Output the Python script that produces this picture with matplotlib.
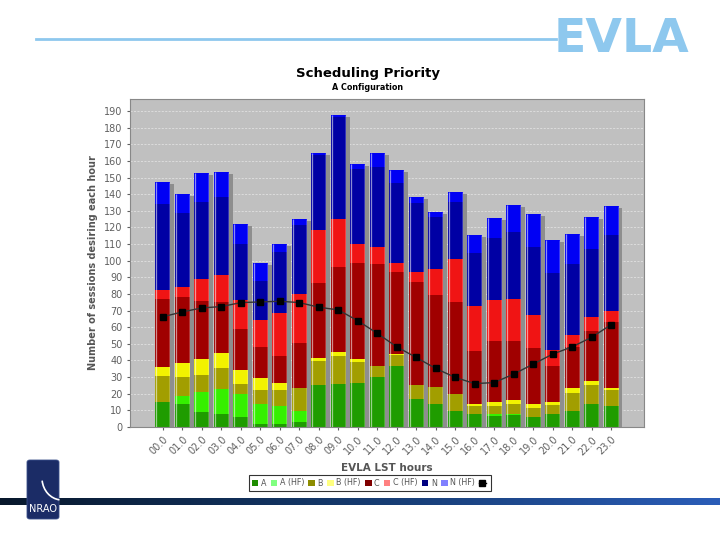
import matplotlib
matplotlib.use("Agg")
import matplotlib.pyplot as plt
import numpy as np
from matplotlib.patches import Patch, FancyBboxPatch, Arc
from matplotlib.lines import Line2D
from matplotlib.colors import LinearSegmentedColormap

# Dados (sessões por hora LST)
horas = ["00.0", "01.0", "02.0", "03.0", "04.0", "05.0", "06.0", "07.0", "08.0", "09.0", "10.0", "11.0",
         "12.0", "13.0", "14.0", "15.0", "16.0", "17.0", "18.0", "19.0", "20.0", "21.0", "22.0", "23.0"]

a_std = [15.1, 14.1, 8.8, 8.0, 6.2, 2.0, 2.0, 3.2, 25.3, 26.1, 26.7, 30.2,
         36.6, 16.7, 14.1, 9.7, 7.6, 6.6, 7.2, 6.0, 7.6, 9.7, 14.1, 12.7]
a_hf = [0, 4.8, 12.5, 14.9, 13.9, 12.1, 10.7, 6.5, 0, 0, 0, 0,
        0, 0, 0, 0, 0, 1.0, 0.8, 0, 0, 0, 0, 0]
b_std = [15.7, 11.3, 10.1, 12.3, 5.6, 8.0, 9.8, 13.6, 14.5, 16.7, 12.5, 6.3,
         6.8, 8.6, 9.8, 10.2, 5.1, 5.1, 6.1, 5.7, 5.5, 11.0, 11.0, 9.4]
b_hf = [5.4, 8.4, 9.2, 9.0, 8.7, 7.1, 3.8, 0.4, 1.4, 2.0, 1.6, 0.3,
        0.4, 0.2, 0.2, 0.2, 1.4, 2.4, 2.0, 2.0, 2.0, 2.6, 2.6, 1.6]
c_std = [40.6, 39.4, 35.0, 30.8, 24.7, 18.6, 16.1, 26.6, 45.2, 51.3, 57.9, 60.9,
         49.1, 61.5, 55.5, 55.1, 31.3, 36.8, 35.4, 33.5, 21.7, 24.5, 30.2, 39.6]
c_hf = [5.8, 6.2, 13.1, 16.3, 17.3, 16.7, 26.4, 29.7, 31.8, 28.7, 11.1, 10.3,
        5.8, 6.3, 15.1, 26.1, 27.6, 24.5, 25.5, 20.4, 9.4, 7.3, 8.4, 6.7]
n_std = [51.3, 44.5, 46.8, 47.0, 33.4, 23.0, 36.3, 41.2, 45.2, 61.4, 45.2, 48.4,
         47.7, 41.4, 31.6, 34.0, 31.9, 37.4, 40.0, 40.4, 46.3, 42.6, 40.9, 45.4]
n_hf = [13.3, 11.6, 17.3, 15.1, 12.4, 11.2, 4.7, 3.6, 1.1, 1.2, 3.0, 8.5,
        8.4, 3.6, 3.0, 6.0, 10.5, 11.9, 16.7, 20.3, 20.1, 18.5, 19.1, 17.3]
linha = [66.3, 69.2, 71.6, 72.4, 74.8, 75.2, 75.6, 74.8, 72.0, 70.4, 63.9, 56.3,
         48.2, 41.8, 35.2, 29.8, 26.1, 26.7, 31.8, 37.8, 43.8, 48.2, 53.9, 61.5]

series = [a_std, a_hf, b_std, b_hf, c_std, c_hf, n_std, n_hf]
rotulos = ["A", "A (HF)", "B", "B (HF)", "C", "C (HF)", "N", "N (HF)"]
cores_barra = ["#1f9c00", "#35f000", "#a29e00", "#f2f200", "#a00000", "#f01414", "#0000a4", "#0000f4"]
cores_legenda = ["#1f8c00", "#80ff80", "#8c8c00", "#ffff80", "#800000", "#ff8080", "#000080", "#8080ff"]

fig = plt.figure(figsize=(7.2, 5.4), dpi=100)
fig.patch.set_facecolor("white")

# Cabeçalho do slide
fig.add_artist(Line2D([36/720, 556/720], [1-39/540, 1-39/540], color="#8ec8ee", lw=2))
fig.text(689/720, 1-40/540, "EVLA", ha="right", va="center", fontsize=34, fontweight="bold",
         color="#8ec8ee", family=["Liberation Sans Narrow", "DejaVu Sans"])
fig.text(368/720, 1-73/540, "Scheduling Priority", ha="center", va="center", fontsize=9.5, fontweight="bold")
fig.text(368/720, 1-88/540, "A Configuration", ha="center", va="center", fontsize=5.8, fontweight="bold")

# Gráfico
ax = fig.add_axes([130/720, 1-427/540, 514/720, 328/540])
ax.set_facecolor("#c0c0c0")
x = np.arange(len(horas))
largura = 0.77
total = np.sum(np.array(series), axis=0)

# sombra das barras
ax.bar(x + 0.2, total - 1.2, largura, color="#8e8e8e", zorder=1)

base = np.zeros(len(horas))
for vals, cor in zip(series, cores_barra):
    ax.bar(x, vals, largura, bottom=base, color=cor, zorder=2, linewidth=0)
    base += np.array(vals)
# brilho nas bordas
ax.vlines(x - largura/2 + 0.05, 0, total, color="white", lw=0.9, alpha=0.55, zorder=3)
ax.vlines(x + largura/2 - 0.05, 0, total, color="white", lw=0.5, alpha=0.3, zorder=3)

ax.plot(x, linha, color="#333333", lw=1, marker="s", markersize=4,
        markerfacecolor="black", markeredgecolor="black", zorder=4)

ax.set_xlim(-1.69, 24.69)
ax.set_ylim(0, 197.2)
ax.set_yticks(np.arange(0, 191, 10))
ax.yaxis.grid(True, color="#e8e8e8", linestyle=(0, (3, 2)), lw=0.5)
ax.set_axisbelow(True)
ax.set_xticks(x)
ax.set_xticklabels(horas, rotation=45, ha="right", rotation_mode="anchor")
ax.tick_params(axis="both", labelsize=7, colors="#606060", length=2)
for s in ax.spines.values():
    s.set_color("#888888")
    s.set_linewidth(0.8)
ax.set_xlabel("EVLA LST hours", fontsize=7.5, fontweight="bold", color="#555555", labelpad=4)
ax.set_ylabel("Number of sessions desiring each hour", fontsize=7, fontweight="bold", color="#555555")

# Legenda
handles = [Patch(facecolor=c, edgecolor="none") for c in cores_legenda]
handles.append(Line2D([0], [0], color="black", marker="s", markersize=4, lw=1))
leg = fig.legend(handles, rotulos + [""], loc="center", bbox_to_anchor=(370/720, 1-483/540), ncol=9,
                 fontsize=5.8, frameon=True, fancybox=False, handlelength=0.8, handleheight=0.8,
                 handletextpad=0.3, columnspacing=0.55, borderpad=0.4, edgecolor="black")
leg.get_frame().set_linewidth(0.8)
for t in leg.get_texts():
    t.set_color("#555555")

# Faixa inferior com degradê
fx = fig.add_axes([0, 1-505/540, 1, 7/540])
grad = np.linspace(0, 1, 256).reshape(1, -1)
cmap = LinearSegmentedColormap.from_list("faixa", ["#08182c", "#153a6e", "#2b5db8"])
fx.imshow(grad, aspect="auto", cmap=cmap)
fx.axis("off")

# Logo NRAO
logo = FancyBboxPatch((27/720, 1-519/540), 32/720, 59/540, boxstyle="round,pad=0,rounding_size=0.004",
                      transform=fig.transFigure, facecolor="#1b2c66", edgecolor="#3a4f8a", lw=0.6, zorder=5)
fig.add_artist(logo)
fig.add_artist(Arc((62/720, 1-478/540), 40/720, 44/540, theta1=190, theta2=265,
                   transform=fig.transFigure, color="white", lw=1.2, zorder=6))
fig.text(43/720, 1-509/540, "NRAO", ha="center", va="center", fontsize=7, color="white", zorder=7)

fig.savefig("out.png", dpi=100)
